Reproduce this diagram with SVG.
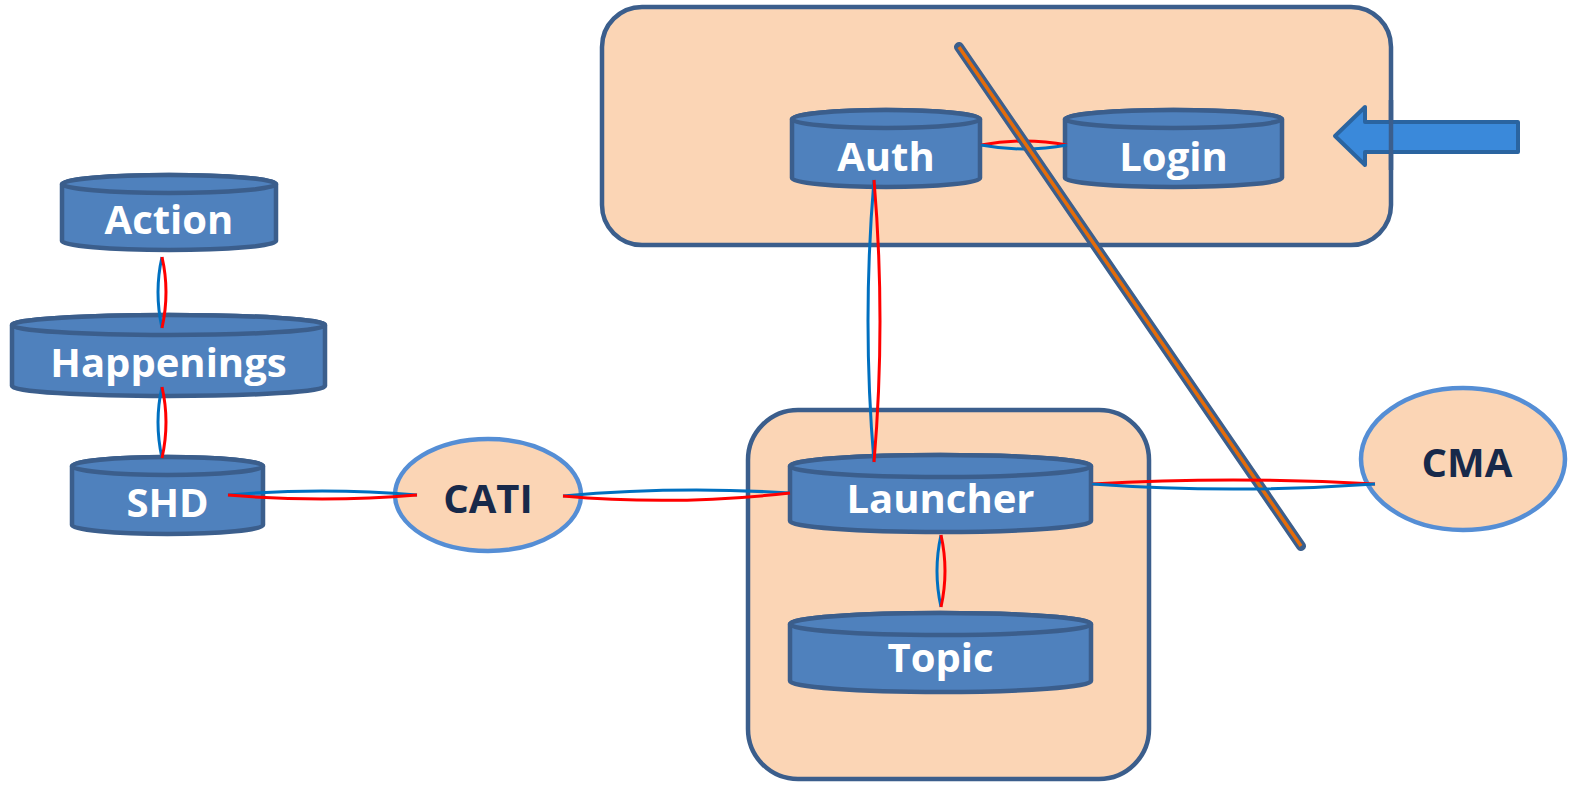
<svg xmlns="http://www.w3.org/2000/svg" width="1575" height="785" viewBox="0 0 1575 785">
<style>
.cont{fill:#FBD5B5;stroke:#3B5E8C;stroke-width:4.5}
.cyl{fill:#4F81BD;stroke:#3B5E8C;stroke-width:4.5}
.lbl{font-family:"Open Sans","Liberation Sans",sans-serif;font-weight:bold;font-size:40px;fill:#FFFFFF;text-anchor:middle}
.ell{fill:#FBD5B5;stroke:#558ED5;stroke-width:4.5}
.elbl{font-family:"Open Sans","Liberation Sans",sans-serif;font-weight:bold;font-size:40px;fill:#17294A;text-anchor:middle}
.b{fill:none;stroke:#0070C0;stroke-width:3}
.r{fill:none;stroke:#FF0000;stroke-width:3}
</style>
<rect width="1575" height="785" fill="#FFFFFF"/>
<g id="container-top">
<rect class="cont" x="602" y="7" width="789" height="238" rx="40"/>
</g>
<g id="container-bottom">
<rect class="cont" x="748" y="410" width="401" height="369" rx="50"/>
</g>
<g id="arrow">
<path d="M1335,136 L1365,107 L1365,122 L1518,122 L1518,152 L1365,152 L1365,165 Z" fill="#3A89DA" stroke="#2A64A0" stroke-width="4" stroke-linejoin="round"/>
<line x1="1391" y1="100" x2="1391" y2="170" stroke="#3B5E8C" stroke-width="4.5"/>
</g>
<g id="auth">
<path class="cyl" d="M792,119 V178 A94,9 0 0 0 980,178 V119 A94,9 0 0 0 792,119 Z"/>
<ellipse class="cyl" cx="886" cy="119" rx="94" ry="9"/>
<text class="lbl" x="886" y="171">Auth</text>
</g>
<g id="login">
<path class="cyl" d="M1065,119 V178 A108.5,9 0 0 0 1282,178 V119 A108.5,9 0 0 0 1065,119 Z"/>
<ellipse class="cyl" cx="1173.5" cy="119" rx="108.5" ry="9"/>
<text class="lbl" x="1173.5" y="171">Login</text>
</g>
<g id="connectors-top">
<path class="r" d="M981,145 Q1024,137 1067,145"/>
<path class="b" d="M981,145 Q1024,153 1067,145"/>
</g>
<g id="divider">
<line x1="959" y1="47" x2="1301" y2="546" stroke="#3B5E8C" stroke-width="10" stroke-linecap="round"/>
<line x1="959" y1="47" x2="1301" y2="546" stroke="#E46C0A" stroke-width="3.5"/>
</g>
<g id="action">
<path class="cyl" d="M62,184 V241 A107,9 0 0 0 276,241 V184 A107,9 0 0 0 62,184 Z"/>
<ellipse class="cyl" cx="169" cy="184" rx="107" ry="9"/>
<text class="lbl" x="169" y="234">Action</text>
</g>
<g id="happenings">
<path class="cyl" d="M12,325 V386 A156.5,10 0 0 0 325,386 V325 A156.5,10 0 0 0 12,325 Z"/>
<ellipse class="cyl" cx="168.5" cy="325" rx="156.5" ry="10"/>
<text class="lbl" x="168.5" y="377">Happenings</text>
</g>
<g id="shd">
<path class="cyl" d="M72,466 V525 A95.5,9 0 0 0 263,525 V466 A95.5,9 0 0 0 72,466 Z"/>
<ellipse class="cyl" cx="167.5" cy="466" rx="95.5" ry="9"/>
<text class="lbl" x="167.5" y="517">SHD</text>
</g>
<g id="cati">
<ellipse class="ell" cx="488" cy="495" rx="93" ry="56"/>
<text class="elbl" x="488" y="513">CATI</text>
</g>
<g id="cma">
<ellipse class="ell" cx="1463" cy="459" rx="102" ry="71"/>
<text class="elbl" x="1467" y="477">CMA</text>
</g>
<g id="launcher">
<path class="cyl" d="M790,466 V521 A150.5,11 0 0 0 1091,521 V466 A150.5,11 0 0 0 790,466 Z"/>
<ellipse class="cyl" cx="940.5" cy="466" rx="150.5" ry="11"/>
<text class="lbl" x="940.5" y="513">Launcher</text>
</g>
<g id="topic">
<path class="cyl" d="M790,624 V681 A150.5,11 0 0 0 1091,681 V624 A150.5,11 0 0 0 790,624 Z"/>
<ellipse class="cyl" cx="940.5" cy="624" rx="150.5" ry="11"/>
<text class="lbl" x="940.5" y="672">Topic</text>
</g>
<g id="connectors">
<path class="b" d="M162,257 Q154,292 162,328"/>
<path class="r" d="M162,257 Q170,292 162,328"/>
<path class="b" d="M162,387 Q154,422 162,458"/>
<path class="r" d="M162,387 Q170,422 162,458"/>
<path class="b" d="M228,495 Q322,487 417,495"/>
<path class="r" d="M228,495 Q322,503 417,495"/>
<path class="b" d="M563,496 Q676,486 790,493"/>
<path class="r" d="M563,496 Q676,506 790,493"/>
<path class="r" d="M1092,484 Q1233,476 1375,484"/>
<path class="b" d="M1092,484 Q1233,494 1375,484"/>
<path class="b" d="M874,180 Q862,321 874,462"/>
<path class="r" d="M874,180 Q886,321 874,462"/>
<path class="b" d="M941,535 Q933,571 941,607"/>
<path class="r" d="M941,535 Q949,571 941,607"/>
</g>
</svg>
